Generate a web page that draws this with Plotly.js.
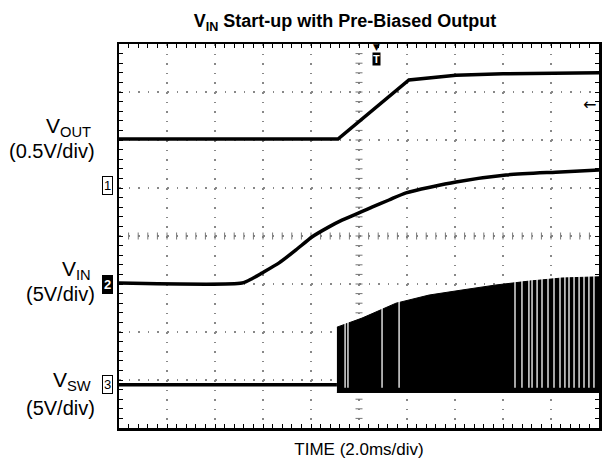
<!DOCTYPE html>
<html>
<head>
<meta charset="utf-8">
<script src="https://cdn.plot.ly/plotly-3.0.1.min.js"></script>
<style>html,body{margin:0;padding:0;background:#fff;}#chart{width:602px;height:463px;}</style>
</head>
<body>
<div id="chart"></div>
<script>
// Time axis in ms (2.0 ms/div, 10 divisions); vertical values in screen divisions (8 divisions)
const voutTime  = [0, 9.125, 12.08, 14.04, 16.0, 20];
const voutDiv   = [6.02, 6.02, 7.25, 7.35, 7.38, 7.40];

const vinTime   = [0, 5.125, 5.54, 5.96, 6.67, 7.375, 8.04, 8.75, 9.29, 10.54, 11.25, 11.96, 14.04, 16.125, 18.2, 20];
const vinDiv    = [3.02, 3.02, 3.11, 3.23, 3.44, 3.71, 3.98, 4.19, 4.33, 4.60, 4.75, 4.90, 5.125, 5.27, 5.33, 5.375];

const vswIdleTime = [0, 9.08];
const vswIdleDiv  = [0.90, 0.90];

const swEnvTime = [9.08, 9.875, 10.125, 11.54, 12.92, 14.29, 15.71, 17.08, 18.46, 20];
const swEnvTop  = [2.10, 2.25, 2.29, 2.60, 2.77, 2.875, 2.98, 3.06, 3.125, 3.15];
const swEnvLow  = [0.74, 0.74, 0.74, 0.74, 0.74, 0.74, 0.74, 0.74, 0.74, 0.74];

const swGapTime = [9.42, 9.54, 10.96, 11.67, 16.5, 16.79, 17.08, 17.21, 17.42, 17.625, 17.875, 18.125, 18.375, 18.58, 18.75, 18.96, 19.17, 19.375, 19.58, 19.79];

const chanLabels = ['1', '2', '3'];
const chanLevels = [5.06, 3.0, 0.9];
const triggerTime = 10.71;
const triggerLevel = 6.75;

const FONT = 'Liberation Sans, Arial, Helvetica, sans-serif';

// switching block polygon
const polyX = swEnvTime.concat(swEnvTime.slice().reverse());
const polyY = swEnvTop.concat(swEnvLow.slice().reverse());

// gap segments
const gapX = [], gapY = [];
swGapTime.forEach(t => { gapX.push(t, t, null); gapY.push(0.84, 3.2, null); });

// graticule centre ticks
const ctX = [], ctY = [], cvX = [], cvY = [];
for (let k = 1; k < 50; k++) { ctX.push(k * 0.4); ctY.push(4); }
for (let k = 1; k < 40; k++) { cvX.push(10); cvY.push(k * 0.2); }

const traces = [
  {x: ctX, y: ctY, mode: 'markers', marker: {symbol: 'line-ns', size: 5, line: {width: 1, color: '#777'}}, hoverinfo: 'skip'},
  {x: cvX, y: cvY, mode: 'markers', marker: {symbol: 'line-ew', size: 5, line: {width: 1, color: '#777'}}, hoverinfo: 'skip'},
  {x: polyX, y: polyY, mode: 'lines', fill: 'toself', fillcolor: '#000', line: {color: '#000', width: 1}, name: 'VSW switching'},
  {x: gapX, y: gapY, mode: 'lines', line: {color: '#fff', width: 1.3}, connectgaps: false, hoverinfo: 'skip'},
  {x: vswIdleTime, y: vswIdleDiv, mode: 'lines', line: {color: '#000', width: 3.5}, name: 'VSW'},
  {x: vinTime, y: vinDiv, mode: 'lines', line: {color: '#000', width: 3.5, shape: 'spline', smoothing: 0.6}, name: 'VIN'},
  {x: voutTime, y: voutDiv, mode: 'lines', line: {color: '#000', width: 3.5}, name: 'VOUT'}
];

const px2paperX = p => (p - 119) / 480;

const ann = [];
function label(main, sub, scale, yMain, yScale) {
  ann.push({xref: 'paper', yref: 'paper', x: px2paperX(93), y: (428 - yMain) / 384, xanchor: 'right', yanchor: 'middle',
    text: main + '<sub>' + sub + '</sub>', showarrow: false, font: {family: FONT, size: 21, color: '#000'}});
  ann.push({xref: 'paper', yref: 'paper', x: px2paperX(97), y: (428 - yScale) / 384, xanchor: 'right', yanchor: 'middle',
    text: scale, showarrow: false, font: {family: FONT, size: 20, color: '#000'}});
}
label('V', 'OUT', '(0.5V/div)', 127, 151);
label('V', 'IN', '(5V/div)', 270, 294);
label('V', 'SW', '(5V/div)', 381, 408);

chanLabels.forEach((c, i) => {
  const filled = c === '2';
  ann.push({xref: 'paper', yref: 'y', x: px2paperX(107), y: chanLevels[i], xanchor: 'center', yanchor: 'middle',
    text: filled ? '<b>' + c + '</b>' : c, showarrow: false,
    font: {family: FONT, size: 13, color: filled ? '#fff' : '#000'},
    bgcolor: filled ? '#000' : '#fff', bordercolor: '#000', borderwidth: 1, borderpad: 1});
});

ann.push({xref: 'x', yref: 'paper', x: triggerTime, y: (428 - 47) / 384, xanchor: 'center', yanchor: 'middle',
  text: '▼', showarrow: false, font: {family: 'DejaVu Sans', size: 9, color: '#000'}});
ann.push({xref: 'x', yref: 'paper', x: triggerTime, y: (428 - 59) / 384, xanchor: 'center', yanchor: 'middle',
  text: '<b>T</b>', showarrow: false, font: {family: FONT, size: 11, color: '#fff'}, bgcolor: '#000', borderpad: 0});
ann.push({xref: 'x', yref: 'y', x: 19.62, y: triggerLevel, xanchor: 'center', yanchor: 'middle',
  text: '←', showarrow: false, font: {family: 'DejaVu Sans', size: 16, color: '#000'}});

const axisCommon = {
  showgrid: true, gridcolor: '#888', gridwidth: 1.5, griddash: '1.5px,8.1px',
  zeroline: false, showline: true, linecolor: '#000', linewidth: 2.5, mirror: 'ticks',
  ticks: 'inside', ticklen: 4, tickcolor: '#000', tickwidth: 1, showticklabels: false, fixedrange: true
};

const layout = {
  width: 602, height: 463,
  margin: {l: 119, r: 3, t: 44, b: 35},
  paper_bgcolor: '#fff', plot_bgcolor: '#fff',
  showlegend: false,
  font: {family: FONT, color: '#000'},
  title: {text: '<b>V<sub>IN</sub> Start-up with Pre-Biased Output</b>', font: {family: FONT, size: 18, color: '#000'},
    xref: 'container', x: 345 / 602, xanchor: 'center', yref: 'container', y: 1 - 21 / 463, yanchor: 'middle'},
  xaxis: Object.assign({}, axisCommon, {range: [0, 20], tick0: 0, dtick: 2,
    minor: {dtick: 0.4, ticks: 'inside', ticklen: 4, tickcolor: '#000', showgrid: false},
    title: {text: 'TIME (2.0ms/div)', font: {family: FONT, size: 17, color: '#000'}, standoff: 14}}),
  yaxis: Object.assign({}, axisCommon, {range: [0, 8], tick0: 0, dtick: 1,
    minor: {dtick: 0.2, ticks: 'inside', ticklen: 4, tickcolor: '#000', showgrid: false}}),
  annotations: ann
};

Plotly.newPlot('chart', traces, layout, {displayModeBar: false, staticPlot: true});
</script>
</body>
</html>
